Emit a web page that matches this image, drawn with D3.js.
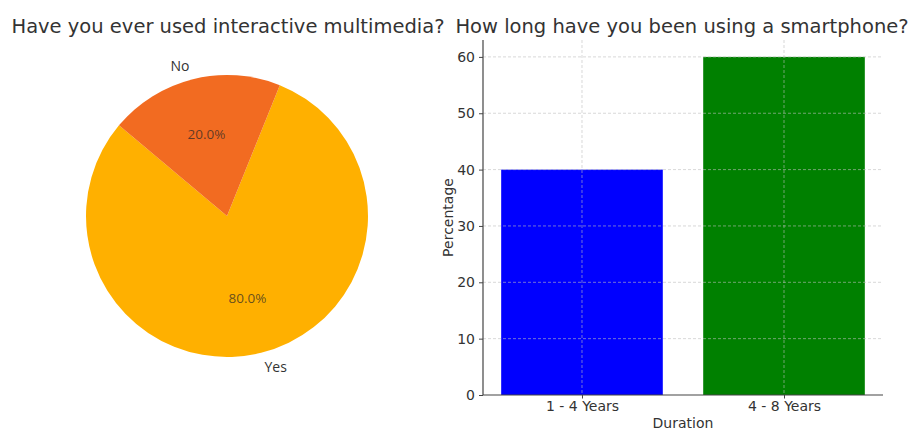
<!DOCTYPE html>
<html>
<head>
<meta charset="utf-8">
<script src="https://cdn.jsdelivr.net/npm/d3@7/dist/d3.min.js"></script>
<style>
  html, body { margin: 0; padding: 0; background: #fff; }
  svg { display: block; }
  text { font-family: "DejaVu Sans", sans-serif; fill: #333; }
</style>
</head>
<body>
<svg id="chart" width="911" height="430"></svg>
<script>
// Pie: interactive multimedia usage
const pieLabels = ["Yes", "No"];
const pieValues = [80, 20];
const pieColors = ["#FFB000", "#F26B21"];

// Bars: smartphone usage duration
const durations = ["1 - 4 Years", "4 - 8 Years"];
const durationPct = [40, 60];
const barColors = ["#0000FF", "#008000"];
const yTicks = [0, 10, 20, 30, 40, 50, 60];

const svg = d3.select("#chart");

// ---------- Pie ----------
const cx = 227, cy = 216, r = 141;
const startDeg = 140; // counter-clockwise from +x, like matplotlib
const pie = d3.pie().sort(null).value(d => d)
  // d3 angles are clockwise from 12 o'clock; convert from ccw-from-east
  .startAngle(Math.PI / 2 - startDeg * Math.PI / 180)
  .endAngle(Math.PI / 2 - startDeg * Math.PI / 180 - 2 * Math.PI);
const arcs = pie(pieValues);
const arc = d3.arc().innerRadius(0).outerRadius(r);

const pg = svg.append("g").attr("transform", `translate(${cx},${cy})`);
pg.selectAll("path").data(arcs).join("path")
  .attr("d", arc)
  .attr("fill", (d, i) => pieColors[i]);

const total = d3.sum(pieValues);
arcs.forEach((d, i) => {
  const mid = (d.startAngle + d.endAngle) / 2;
  const ux = Math.sin(mid), uy = -Math.cos(mid);
  // category label just outside
  pg.append("text")
    .attr("x", ux * r * 1.1).attr("y", uy * r * 1.1)
    .attr("text-anchor", ux >= 0 ? "start" : "end")
    .attr("dominant-baseline", "central")
    .style("font-family", "'Open Sans', sans-serif")
    .style("font-size", "14px")
    .attr("fill", "#333")
    .text(pieLabels[i]);
  // percentage inside
  pg.append("text")
    .attr("x", ux * r * 0.6).attr("y", uy * r * 0.6)
    .attr("text-anchor", "middle")
    .attr("dominant-baseline", "central")
    .style("font-family", "'Open Sans', sans-serif")
    .style("font-size", "13.5px")
    .style("fill", "rgba(40,40,40,0.72)")
    .text((pieValues[i] / total * 100).toFixed(1) + "%");
});

svg.append("text")
  .attr("x", 228).attr("y", 33)
  .attr("text-anchor", "middle")
  .style("font-size", "19.5px")
  .text("Have you ever used interactive multimedia?");

// ---------- Bars ----------
const plotL = 483, plotR = 883, plotT = 40, plotB = 395;
const x = d3.scaleLinear().domain([-0.49, 1.49]).range([plotL, plotR]);
const y = d3.scaleLinear().domain([0, 63]).range([plotB, plotT]);
const bw = 0.8;

const bg = svg.append("g");

bg.selectAll("rect").data(durationPct).join("rect")
  .attr("x", (d, i) => x(i - bw / 2))
  .attr("width", (d, i) => x(i + bw / 2) - x(i - bw / 2))
  .attr("y", d => y(d))
  .attr("height", d => y(0) - y(d))
  .attr("fill", (d, i) => barColors[i]);

// dashed grid over the bars
const grid = bg.append("g").attr("stroke", "rgba(190,190,190,0.75)")
  .attr("stroke-width", 0.8).attr("stroke-dasharray", "3,2");
grid.selectAll("line.h").data(yTicks.slice(1)).join("line")
  .attr("class", "h")
  .attr("x1", plotL).attr("x2", plotR)
  .attr("y1", d => y(d)).attr("y2", d => y(d));
grid.selectAll("line.v").data(durations).join("line")
  .attr("class", "v")
  .attr("x1", (d, i) => x(i)).attr("x2", (d, i) => x(i))
  .attr("y1", plotT).attr("y2", plotB);

// axes
const yAxis = d3.axisLeft(y).tickValues(yTicks).tickSize(4).tickPadding(4);
const yg = bg.append("g").attr("transform", `translate(${plotL},0)`).call(yAxis);
yg.select(".domain").remove();
yg.selectAll("text").style("font-size", "14px").attr("fill", "#333")
  .style("font-family", "'DejaVu Sans', sans-serif");
yg.selectAll("line").attr("stroke", "#444");

const xAxis = d3.axisBottom(x).tickValues([0, 1]).tickFormat(i => durations[i])
  .tickSize(3.5).tickPadding(3);
const xg = bg.append("g").attr("transform", `translate(0,${plotB})`).call(xAxis);
xg.select(".domain").remove();
xg.selectAll("text").style("font-size", "14px").attr("fill", "#333")
  .style("font-family", "'DejaVu Sans', sans-serif");
xg.selectAll("line").attr("stroke", "#444");

// spines: left and bottom
bg.append("line").attr("x1", plotL).attr("x2", plotL).attr("y1", plotT).attr("y2", plotB)
  .attr("stroke", "#444").attr("stroke-width", 1.2);
bg.append("line").attr("x1", plotL).attr("x2", plotR).attr("y1", plotB).attr("y2", plotB)
  .attr("stroke", "#444").attr("stroke-width", 1.2);

svg.append("text")
  .attr("transform", `translate(448,${(plotT + plotB) / 2}) rotate(-90)`)
  .attr("text-anchor", "middle")
  .attr("dominant-baseline", "central")
  .style("font-size", "14px")
  .text("Percentage");

svg.append("text")
  .attr("x", (plotL + plotR) / 2).attr("y", 428)
  .attr("text-anchor", "middle")
  .style("font-size", "14px")
  .text("Duration");

svg.append("text")
  .attr("x", 682).attr("y", 33)
  .attr("text-anchor", "middle")
  .style("font-size", "19.5px")
  .text("How long have you been using a smartphone?");
</script>
</body>
</html>
